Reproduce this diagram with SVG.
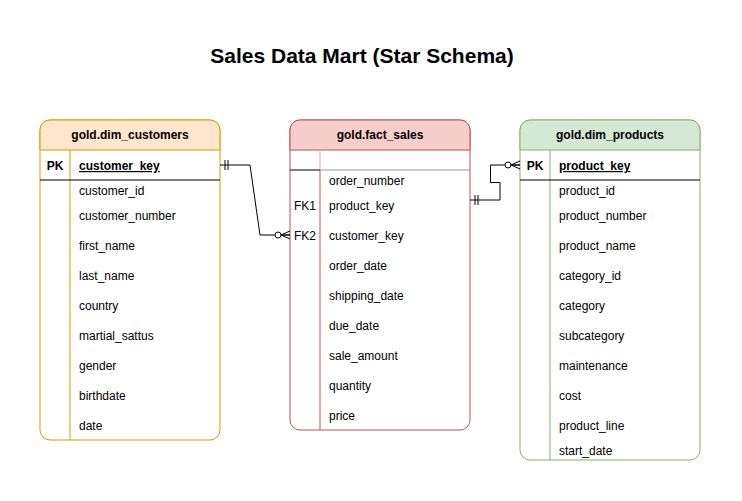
<svg xmlns="http://www.w3.org/2000/svg" width="742" height="501" viewBox="0 0 742 501">
  <style>
    text { font-family: "Liberation Sans", Arial, sans-serif; font-size: 12px; fill: #000; }
    .title { font-size: 21px; font-weight: bold; text-anchor: middle; }
    .hdr { font-weight: bold; text-anchor: middle; }
    .key { text-anchor: middle; }
    .pk { font-weight: bold; text-anchor: middle; }
    .pkname { font-weight: bold; text-decoration: underline; }
    .conn { fill: none; stroke: #000; stroke-width: 1; }
    .sep { stroke: #000; stroke-width: 1; }
  </style>
  <defs>
    <marker id="mandOne" markerUnits="userSpaceOnUse" viewBox="-15 -10 20 20" markerWidth="20" markerHeight="20" refX="0" refY="0" orient="auto-start-reverse" overflow="visible">
      <path d="M-5,-5 V5 M-8,-5 V5" fill="none" stroke="#000" stroke-width="1"/>
    </marker>
    <marker id="zeroMany" markerUnits="userSpaceOnUse" viewBox="-15 -10 20 20" markerWidth="20" markerHeight="20" refX="0" refY="0" orient="auto" overflow="visible">
      <path d="M0,-4 L-9,0 L0,4 M-9,0 H0" fill="none" stroke="#000" stroke-width="1"/>
      <circle cx="-12" cy="0" r="3" fill="#fff" stroke="#000" stroke-width="1"/>
    </marker>
  </defs>
  <rect width="742" height="501" fill="#fff"/>
  <text class="title" x="362" y="63">Sales Data Mart (Star Schema)</text>

  <g id="dim_customers">
    <rect x="40" y="120" width="180" height="320" rx="10" ry="10" fill="#fff" stroke="#d79b00"/>
    <path d="M40,150 V130 A10,10 0 0 1 50,120 H210 A10,10 0 0 1 220,130 V150 Z" fill="#ffe6cc" stroke="#d79b00"/>
    <line x1="70" y1="150" x2="70" y2="440" stroke="#d79b00"/>
    <line class="sep" x1="40" y1="180" x2="220" y2="180"/>
    <text class="hdr" x="130" y="139">gold.dim_customers</text>
    <text class="pk" x="55" y="170">PK</text>
    <text class="pkname" x="79" y="170">customer_key</text>
    <text x="79" y="195">customer_id</text>
    <text x="79" y="220">customer_number</text>
    <text x="79" y="250">first_name</text>
    <text x="79" y="280">last_name</text>
    <text x="79" y="310">country</text>
    <text x="79" y="340">martial_sattus</text>
    <text x="79" y="370">gender</text>
    <text x="79" y="400">birthdate</text>
    <text x="79" y="430">date</text>
  </g>

  <g id="fact_sales">
    <rect x="290" y="120" width="180" height="310" rx="10" ry="10" fill="#fff" stroke="#b85450"/>
    <path d="M290,150 V130 A10,10 0 0 1 300,120 H460 A10,10 0 0 1 470,130 V150 Z" fill="#f8cecc" stroke="#b85450"/>
    <line x1="320" y1="150" x2="320" y2="170" stroke="#e0a9a7"/>
    <line x1="320" y1="170" x2="320" y2="430" stroke="#b85450"/>
    <line class="sep" x1="290" y1="170" x2="320" y2="170"/>
    <line x1="320" y1="170" x2="470" y2="170" stroke="#999"/>
    <text class="hdr" x="380" y="139">gold.fact_sales</text>
    <text x="329" y="185">order_number</text>
    <text class="key" x="305" y="210">FK1</text>
    <text x="329" y="210">product_key</text>
    <text class="key" x="305" y="240">FK2</text>
    <text x="329" y="240">customer_key</text>
    <text x="329" y="270">order_date</text>
    <text x="329" y="300">shipping_date</text>
    <text x="329" y="330">due_date</text>
    <text x="329" y="360">sale_amount</text>
    <text x="329" y="390">quantity</text>
    <text x="329" y="420">price</text>
  </g>

  <g id="dim_products">
    <rect x="520" y="120" width="180" height="340" rx="10" ry="10" fill="#fff" stroke="#82b366"/>
    <path d="M520,150 V130 A10,10 0 0 1 530,120 H690 A10,10 0 0 1 700,130 V150 Z" fill="#d5e8d4" stroke="#82b366"/>
    <line x1="550" y1="150" x2="550" y2="460" stroke="#82b366"/>
    <line class="sep" x1="520" y1="180" x2="700" y2="180"/>
    <text class="hdr" x="610" y="139">gold.dim_products</text>
    <text class="pk" x="535" y="170">PK</text>
    <text class="pkname" x="559" y="170">product_key</text>
    <text x="559" y="195">product_id</text>
    <text x="559" y="220">product_number</text>
    <text x="559" y="250">product_name</text>
    <text x="559" y="280">category_id</text>
    <text x="559" y="310">category</text>
    <text x="559" y="340">subcategory</text>
    <text x="559" y="370">maintenance</text>
    <text x="559" y="400">cost</text>
    <text x="559" y="430">product_line</text>
    <text x="559" y="455">start_date</text>
  </g>

  <g id="connectors">
    <path class="conn" d="M220,165 H250 L260,235 H290" marker-start="url(#mandOne)" marker-end="url(#zeroMany)"/>
    <path class="conn" d="M470,200 H500 V182.5 H490.5 V165 H520" marker-start="url(#mandOne)" marker-end="url(#zeroMany)"/>
  </g>
</svg>
